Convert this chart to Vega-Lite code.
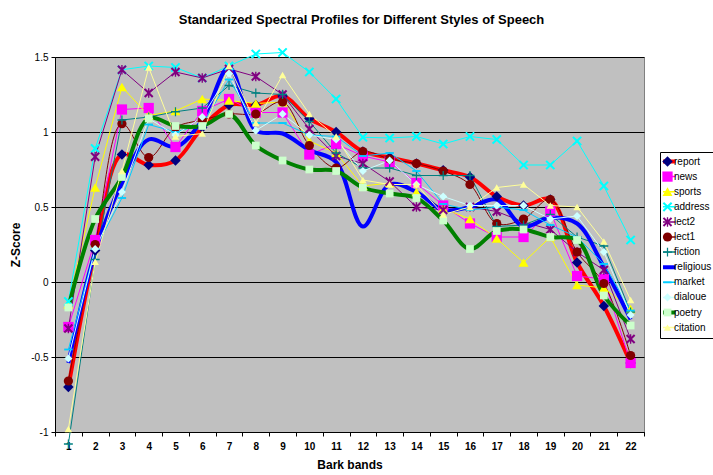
{
  "$schema": "https://vega.github.io/schema/vega-lite/v6.json",
  "width": 589,
  "height": 375,
  "autosize": {"type": "none"},
  "padding": {"left": 55, "top": 57, "right": 69, "bottom": 43},
  "background": "white",
  "config": {
    "font": "Liberation Sans",
    "view": {"fill": "#C0C0C0", "stroke": "#808080", "strokeWidth": 1}
  },
  "title": {
    "text": "Standarized Spectral Profiles for Different Styles of Speech",
    "fontSize": 13,
    "fontWeight": "bold",
    "font": "Liberation Sans",
    "color": "black",
    "anchor": "middle",
    "dx": 12,
    "baseline": "alphabetic",
    "offset": 11
  },
  "data": {
    "values": [
      {"band": 1, "report": -0.70, "news": -0.30, "sports": -0.15, "address": -0.13, "lect2": -0.31, "lect1": -0.66, "fiction": -1.08, "religious": -0.54, "market": -0.45, "dialoue": -0.51, "poetry": -0.17, "citation": -0.98},
      {"band": 2, "report": 0.21, "news": 0.28, "sports": 0.63, "address": 0.89, "lect2": 0.835, "lect1": 0.25, "fiction": 0.15, "religious": 0.20, "market": 0.22, "dialoue": 0.22, "poetry": 0.42, "citation": 0.135},
      {"band": 3, "report": 0.85, "news": 1.15, "sports": 1.30, "address": 1.415, "lect2": 1.415, "lect1": 1.055, "fiction": 1.08, "religious": 0.66, "market": 0.56, "dialoue": 0.60, "poetry": 0.70, "citation": 0.74},
      {"band": 4, "report": 0.78, "news": 1.16, "sports": 1.11, "address": 1.44, "lect2": 1.26, "lect1": 0.83, "fiction": 1.10, "religious": 0.95, "market": 1.05, "dialoue": 1.09, "poetry": 1.09, "citation": 1.43},
      {"band": 5, "report": 0.81, "news": 0.90, "sports": 1.14, "address": 1.43, "lect2": 1.40, "lect1": 1.03, "fiction": 1.135, "religious": 0.90, "market": 1.00, "dialoue": 0.98, "poetry": 1.04, "citation": 0.97},
      {"band": 6, "report": 1.03, "news": 1.14, "sports": 1.22, "address": 1.36, "lect2": 1.36, "lect1": 1.08, "fiction": 1.16, "religious": 1.08, "market": 1.05, "dialoue": 1.10, "poetry": 1.04, "citation": 0.99},
      {"band": 7, "report": 1.18, "news": 1.22, "sports": 1.21, "address": 1.44, "lect2": 1.42, "lect1": 1.12, "fiction": 1.31, "religious": 1.43, "market": 1.35, "dialoue": 1.39, "poetry": 1.12, "citation": 1.44},
      {"band": 8, "report": 1.18, "news": 1.13, "sports": 1.19, "address": 1.52, "lect2": 1.37, "lect1": 1.12, "fiction": 1.26, "religious": 1.01, "market": 1.06, "dialoue": 1.01, "poetry": 0.91, "citation": 1.06},
      {"band": 9, "report": 1.24, "news": 1.13, "sports": 1.20, "address": 1.53, "lect2": 1.25, "lect1": 1.20, "fiction": 1.25, "religious": 0.99, "market": 1.06, "dialoue": 1.12, "poetry": 0.81, "citation": 1.38},
      {"band": 10, "report": 1.09, "news": 0.85, "sports": 0.94, "address": 1.40, "lect2": 1.02, "lect1": 0.91, "fiction": 1.07, "religious": 0.88, "market": 0.98, "dialoue": 0.98, "poetry": 0.75, "citation": 1.12},
      {"band": 11, "report": 1.00, "news": 0.92, "sports": 0.86, "address": 1.22, "lect2": 0.84, "lect1": 0.76, "fiction": 0.86, "religious": 0.80, "market": 0.97, "dialoue": 0.95, "poetry": 0.74, "citation": 0.97},
      {"band": 12, "report": 0.87, "news": 0.84, "sports": 0.64, "address": 0.965, "lect2": 0.79, "lect1": 0.87, "fiction": 0.76, "religious": 0.37, "market": 0.84, "dialoue": 0.74, "poetry": 0.63, "citation": 0.68},
      {"band": 13, "report": 0.83, "news": 0.80, "sports": 0.66, "address": 0.96, "lect2": 0.67, "lect1": 0.82, "fiction": 0.76, "religious": 0.65, "market": 0.86, "dialoue": 0.81, "poetry": 0.59, "citation": 0.65},
      {"band": 14, "report": 0.79, "news": 0.66, "sports": 0.60, "address": 0.97, "lect2": 0.50, "lect1": 0.79, "fiction": 0.71, "religious": 0.60, "market": 0.74, "dialoue": 0.65, "poetry": 0.56, "citation": 0.65},
      {"band": 15, "report": 0.745, "news": 0.51, "sports": 0.49, "address": 0.92, "lect2": 0.48, "lect1": 0.74, "fiction": 0.71, "religious": 0.48, "market": 0.52, "dialoue": 0.57, "poetry": 0.41, "citation": 0.45},
      {"band": 16, "report": 0.70, "news": 0.39, "sports": 0.42, "address": 0.97, "lect2": 0.50, "lect1": 0.65, "fiction": 0.71, "religious": 0.50, "market": 0.48, "dialoue": 0.51, "poetry": 0.22, "citation": 0.50},
      {"band": 17, "report": 0.57, "news": 0.30, "sports": 0.29, "address": 0.95, "lect2": 0.47, "lect1": 0.39, "fiction": 0.37, "religious": 0.55, "market": 0.50, "dialoue": 0.51, "poetry": 0.34, "citation": 0.63},
      {"band": 18, "report": 0.51, "news": 0.30, "sports": 0.13, "address": 0.78, "lect2": 0.40, "lect1": 0.42, "fiction": 0.38, "religious": 0.37, "market": 0.48, "dialoue": 0.51, "poetry": 0.35, "citation": 0.65},
      {"band": 19, "report": 0.55, "news": 0.47, "sports": 0.30, "address": 0.78, "lect2": 0.35, "lect1": 0.55, "fiction": 0.45, "religious": 0.43, "market": 0.38, "dialoue": 0.42, "poetry": 0.30, "citation": 0.51},
      {"band": 20, "report": 0.13, "news": 0.04, "sports": -0.02, "address": 0.94, "lect2": 0.20, "lect1": 0.20, "fiction": 0.30, "religious": 0.39, "market": 0.30, "dialoue": 0.44, "poetry": 0.28, "citation": 0.50},
      {"band": 21, "report": -0.16, "news": 0.02, "sports": -0.04, "address": 0.64, "lect2": 0.08, "lect1": -0.01, "fiction": 0.24, "religious": 0.10, "market": 0.12, "dialoue": 0.20, "poetry": -0.09, "citation": 0.27},
      {"band": 22, "report": -0.54, "news": -0.54, "sports": -0.18, "address": 0.28, "lect2": -0.38, "lect1": -0.49, "fiction": -0.20, "religious": -0.25, "market": -0.19, "dialoue": -0.22, "poetry": -0.29, "citation": -0.12}
    ]
  },
  "transform": [
    {"fold": ["report", "news", "sports", "address", "lect2", "lect1", "fiction", "religious", "market", "dialoue", "poetry", "citation"], "as": ["series", "z"]}
  ],
  "encoding": {
    "x": {
      "field": "band",
      "type": "ordinal",
      "bandPosition": 0.5,
      "scale": {"type": "band", "paddingInner": 0, "paddingOuter": 0},
      "axis": {
        "title": "Bark bands",
        "titleFontSize": 12,
        "titleFontWeight": "bold",
        "titleColor": "black",
        "titlePadding": 8,
        "labelAngle": 0,
        "labelFontSize": 10,
        "labelFontWeight": "bold",
        "labelColor": "black",
        "labelPadding": 5,
        "tickBand": "extent",
        "tickColor": "black",
        "tickSize": 4,
        "domainColor": "black",
        "grid": false
      }
    },
    "y": {
      "field": "z",
      "type": "quantitative",
      "scale": {"domain": [-1, 1.5], "nice": false, "zero": false},
      "axis": {
        "title": "Z-Score",
        "titleFontSize": 12,
        "titleFontWeight": "bold",
        "titleColor": "black",
        "titlePadding": 8,
        "values": [-1, -0.5, 0, 0.5, 1, 1.5],
        "labelExpr": "'' + datum.value",
        "labelFontSize": 10,
        "labelColor": "black",
        "labelPadding": 3,
        "tickColor": "black",
        "tickSize": 4,
        "domainColor": "black",
        "grid": true,
        "gridColor": "black",
        "gridWidth": 1,
        "gridOpacity": 1
      }
    },
    "color": {
      "field": "series",
      "type": "nominal",
      "scale": {
        "domain": ["report", "news", "sports", "address", "lect2", "lect1", "fiction", "religious", "market", "dialoue", "poetry", "citation"],
        "range": ["#FF0000", "#FF00FF", "#FFFF00", "#00FFFF", "#800080", "#800000", "#008080", "#0000FF", "#00CCFF", "#CCFFFF", "#008000", "#FFFF99"]
      },
      "legend": {
        "title": null,
        "orient": "none",
        "legendX": 605,
        "legendY": 95,
        "symbolType": "stroke",
        "symbolSize": 225,
        "symbolStrokeWidth": 2,
        "labelFontSize": 10,
        "labelColor": "black",
        "labelOffset": 1,
        "clipHeight": 13,
        "rowPadding": 2.1,
        "padding": 3,
        "strokeColor": "#000000",
        "fillColor": "white",
        "encode": {
          "symbols": {
            "update": {
              "strokeWidth": {"signal": "indexof(['report','religious','poetry'], datum.value) >= 0 ? 4 : 1.5"}
            }
          }
        }
      }
    }
  },
  "layer": [
    {
      "transform": [{"filter": "datum.series === 'report'"}],
      "mark": {"type": "line", "interpolate": "catmull-rom", "strokeWidth": 4, "clip": false}
    },
    {
      "transform": [{"filter": "indexof(['news','sports','address','lect2'], datum.series) >= 0"}],
      "mark": {"type": "line", "strokeWidth": 1, "clip": false}
    },
    {
      "transform": [{"filter": "datum.series === 'lect1'"}],
      "mark": {"type": "line", "interpolate": "catmull-rom", "strokeWidth": 1, "clip": false}
    },
    {
      "transform": [{"filter": "datum.series === 'fiction'"}],
      "mark": {"type": "line", "strokeWidth": 1, "clip": false}
    },
    {
      "transform": [{"filter": "datum.series === 'religious'"}],
      "mark": {"type": "line", "interpolate": "catmull-rom", "strokeWidth": 4, "clip": false}
    },
    {
      "transform": [{"filter": "indexof(['market','dialoue'], datum.series) >= 0"}],
      "mark": {"type": "line", "strokeWidth": 1, "clip": false}
    },
    {
      "transform": [{"filter": "datum.series === 'poetry'"}],
      "mark": {"type": "line", "interpolate": "catmull-rom", "strokeWidth": 4, "clip": false}
    },
    {
      "transform": [{"filter": "datum.series === 'citation'"}],
      "mark": {"type": "line", "strokeWidth": 1, "clip": false}
    },
    {
      "transform": [{"filter": "datum.series !== 'religious'"}],
      "mark": {"type": "point", "filled": true, "opacity": 1, "clip": false},
      "encoding": {
        "fill": {
          "field": "series",
          "type": "nominal",
          "scale": {
            "domain": ["report", "news", "sports", "address", "lect2", "lect1", "fiction", "religious", "market", "dialoue", "poetry", "citation", "zz"],
            "range": ["#000080", "#FF00FF", "#FFFF00", "#00FFFF", "#800080", "#800000", "#008080", "transparent", "#00CCFF", "#CCFFFF", "#CCFFCC", "#FFFF99", "transparent"]
          },
          "legend": {
            "title": null,
            "orient": "none",
            "legendX": 604,
            "legendY": 95,
            "labelFontSize": 10,
            "labelExpr": "''",
            "labelOffset": 1,
            "clipHeight": 13,
            "rowPadding": 2.1,
            "padding": 3,
            "symbolOpacity": 1,
            "symbolStrokeWidth": 0
          }
        },
        "shape": {
          "field": "series",
          "type": "nominal",
          "scale": {
            "domain": ["report", "news", "sports", "address", "lect2", "lect1", "fiction", "religious", "market", "dialoue", "poetry", "citation", "zz"],
            "range": [
              "diamond",
              "square",
              "triangle-up",
              "M-1,-0.7L-0.7,-1L0,-0.3L0.7,-1L1,-0.7L0.3,0L1,0.7L0.7,1L0,0.3L-0.7,1L-1,0.7L-0.3,0Z",
              "M-1,-0.7L-0.7,-1L0,-0.3L0.7,-1L1,-0.7L0.3,0L1,0.7L0.7,1L0,0.3L-0.7,1L-1,0.7L-0.3,0Z M-0.14,-1L0.14,-1L0.14,1L-0.14,1Z",
              "circle",
              "M-1,-0.14L-0.14,-0.14L-0.14,-1L0.14,-1L0.14,-0.14L1,-0.14L1,0.14L0.14,0.14L0.14,1L-0.14,1L-0.14,0.14L-1,0.14Z",
              "circle",
              "M-1,-0.22L1,-0.22L1,0.22L-1,0.22Z",
              "diamond",
              "square",
              "triangle-up",
              "circle"
            ]
          },
          "legend": {
            "title": null,
            "orient": "none",
            "legendX": 604,
            "legendY": 95,
            "labelFontSize": 10,
            "labelExpr": "''",
            "labelOffset": 1,
            "clipHeight": 13,
            "rowPadding": 2.1,
            "padding": 3,
            "symbolOpacity": 1,
            "symbolStrokeWidth": 0
          }
        },
        "size": {
          "field": "series",
          "type": "nominal",
          "scale": {
            "domain": ["report", "news", "sports", "address", "lect2", "lect1", "fiction", "religious", "market", "dialoue", "poetry", "citation", "zz"],
            "range": [110, 50, 60, 55, 55, 55, 60, 1, 60, 45, 120, 60, 1]
          },
          "legend": {
            "title": null,
            "orient": "none",
            "legendX": 604,
            "legendY": 95,
            "labelFontSize": 10,
            "labelExpr": "''",
            "labelOffset": 1,
            "clipHeight": 13,
            "rowPadding": 2.1,
            "padding": 3,
            "symbolOpacity": 1,
            "symbolStrokeWidth": 0
          }
        }
      }
    }
  ]
}
